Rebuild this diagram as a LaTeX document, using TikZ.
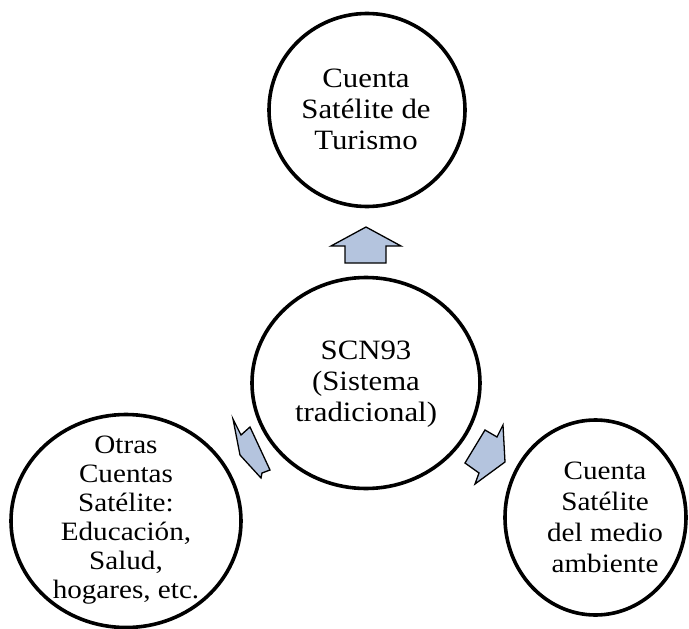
\documentclass[tikz,border=0pt]{standalone}
\usepackage{fontspec}
\setmainfont{Liberation Serif}[FakeStretch=1.1]
\usetikzlibrary{shapes.geometric}
\definecolor{arrowfill}{RGB}{180,196,222}
\tikzset{
  circ/.style={draw=black, line width=3.6pt, ellipse, inner sep=0pt, fill=white},
  txt/.style={align=center, inner sep=0pt, font=\fontsize{28}{31}\selectfont},
  blockarrow/.style={draw=black, line width=1.3pt, fill=arrowfill, line join=miter}
}
\begin{document}
\begin{tikzpicture}[x=1pt,y=-1pt]
\useasboundingbox (0,0) rectangle (689,629);
% circles
\node[circ, minimum width=196pt, minimum height=193pt] (top) at (367,110) {};
\node[circ, minimum width=228pt, minimum height=211pt] (mid) at (366,383) {};
\node[circ, minimum width=230pt, minimum height=213pt] (left) at (126,521) {};
\node[circ, minimum width=181pt, minimum height=195pt] (right) at (595.5,517.5) {};
% texts
\node[txt] (toptxt) at (366,109.5) {Cuenta\\Satélite de\\Turismo};
\node[txt] (midtxt) at (366,384.5) {SCN93\\(Sistema\\tradicional)};
\node[txt, font=\fontsize{26.5}{29}\selectfont] (lefttxt) at (126,520) {Otras\\Cuentas\\Satélite:\\Educación,\\Salud,\\hogares, etc.};
\node[txt, font=\fontsize{26.5}{31}\selectfont] (righttxt) at (605,517) {Cuenta\\Satélite\\del medio\\ambiente};
% block arrows
\draw[blockarrow] (366,227) -- (401,246) -- (386,246) -- (386,263) -- (345,263) -- (345,246) -- (331,246) -- cycle;
\draw[blockarrow] (233,419) -- (241,435) -- (250,427) -- (270,470) -- (262,473) -- (261,478) -- (240,455) -- cycle;
\draw[blockarrow] (503,425) -- (497,437) -- (485,430) -- (465,463) -- (479,473) -- (475,484) -- (505,462) -- cycle;
\end{tikzpicture}
\end{document}
